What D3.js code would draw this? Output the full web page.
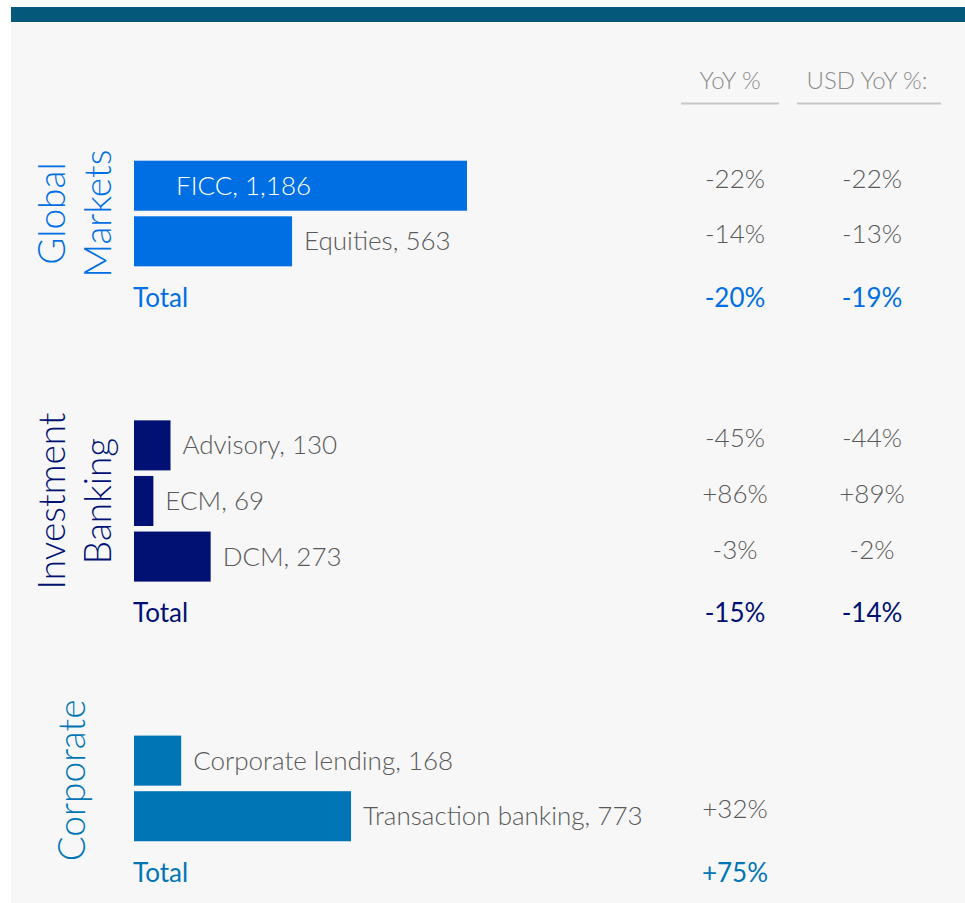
<!DOCTYPE html>
<html>
<head>
<meta charset="utf-8">
<script src="https://cdn.jsdelivr.net/npm/d3@7"></script>
<style>
  body { margin: 0; background: #fff; }
  text { font-family: Lato, "Open Sans", sans-serif; }
</style>
</head>
<body>
<div id="chart"></div>
<script>
// data
var groups = ["Global Markets", "Investment Banking", "Corporate"];
var groupLines = [["Global", "Markets"], ["Investment", "Banking"], ["Corporate"]];
var groupColors = ["#006fe3", "#001173", "#0075b6"];

var rowGroup  = ["Global Markets", "Global Markets", "Investment Banking", "Investment Banking", "Investment Banking", "Corporate", "Corporate"];
var rowNames  = ["FICC", "Equities", "Advisory", "ECM", "DCM", "Corporate lending", "Transaction banking"];
var rowValues = [1186, 563, 130, 69, 273, 168, 773];
var rowYoY    = ["-22%", "-14%", "-45%", "+86%", "-3%", "", "+32%"];
var rowUsdYoY = ["-22%", "-13%", "-44%", "+89%", "-2%", "", ""];

var totalYoY    = ["-20%", "-15%", "+75%"];
var totalUsdYoY = ["-19%", "-14%", ""];

var columns = ["YoY %", "USD YoY %:"];

var width = 965, height = 903;

var svg = d3.select("#chart").append("svg")
    .attr("width", width)
    .attr("height", height);

// background + top band
svg.append("rect").attr("x", 11).attr("y", 22).attr("width", width - 11).attr("height", height - 22).attr("fill", "#f7f7f7");
svg.append("rect").attr("x", 11).attr("y", 7).attr("width", width - 11).attr("height", 15).attr("fill", "#04587a");

// build row slots (bars then a total row per group, with a gap between groups)
var groupGap = 1.67;
var slots = [];
var slot = 0;
groups.forEach(function (g, gi) {
    rowNames.forEach(function (n, i) {
        if (rowGroup[i] == g) {
            slots.push({type: "bar", group: gi, name: n, value: rowValues[i], yoy: rowYoY[i], usd: rowUsdYoY[i], slot: slot});
            slot++;
        }
    });
    slots.push({type: "total", group: gi, name: "Total", yoy: totalYoY[gi], usd: totalUsdYoY[gi], slot: slot});
    slot++;
    slot += groupGap;
});

var y = d3.scaleLinear().domain([0, 1]).range([160.7, 216.3]);
var step = y(1) - y(0);
var barH = step * 0.9;

var x = d3.scaleLinear().domain([0, 1186]).range([134, 467]);
var cx = d3.scalePoint().domain(columns).range([732, 869]);

// header
var head = svg.append("g");
columns.forEach(function (c) {
    head.append("text")
        .attr("x", cx(c) - 2)
        .attr("y", 89)
        .attr("text-anchor", "middle")
        .attr("font-size", 24)
        .attr("font-weight", 300)
        .attr("fill", "#8c8c8c")
        .text(c);
});
head.append("line").attr("x1", 681).attr("x2", 779).attr("y1", 103.5).attr("y2", 103.5).attr("stroke", "#c8c8c8").attr("stroke-width", 2);
head.append("line").attr("x1", 797).attr("x2", 941).attr("y1", 103.5).attr("y2", 103.5).attr("stroke", "#c8c8c8").attr("stroke-width", 2);

var bars = slots.filter(function (d) { return d.type == "bar"; });
var totals = slots.filter(function (d) { return d.type == "total"; });

svg.selectAll("rect.bar")
    .data(bars)
    .enter()
    .append("rect")
    .attr("class", "bar")
    .attr("x", x(0))
    .attr("y", function (d) { return y(d.slot); })
    .attr("width", function (d) { return x(d.value) - x(0); })
    .attr("height", barH)
    .attr("fill", function (d) { return groupColors[d.group]; });

var fmt = d3.format(",");
svg.selectAll("text.lab")
    .data(bars)
    .enter()
    .append("text")
    .attr("class", "lab")
    .attr("x", function (d) {
        var w = x(d.value) - x(0);
        return w > 250 ? x(0) + 42 : x(d.value) + 12;
    })
    .attr("y", function (d) { return y(d.slot) + barH / 2 + 9; })
    .attr("font-size", 26)
    .attr("font-weight", 300)
    .attr("fill", function (d) { return (x(d.value) - x(0)) > 250 ? "#ffffff" : "#595959"; })
    .text(function (d) { return d.name + ", " + fmt(d.value); });

// value columns for bar rows
bars.forEach(function (d) {
    [d.yoy, d.usd].forEach(function (v, ci) {
        if (!v) return;
        svg.append("text")
            .attr("x", cx(columns[ci]) + 3)
            .attr("y", y(d.slot) + barH / 2 + 2)
            .attr("text-anchor", "middle")
            .attr("font-size", 26)
            .attr("font-weight", 300)
            .attr("fill", "#595959")
            .text(v);
    });
});

// totals
totals.forEach(function (d) {
    var col = groupColors[d.group];
    var ty = y(d.slot) + 35;
    svg.append("text")
        .attr("x", x(0) - 1)
        .attr("y", ty)
        .attr("font-size", 26)
        .attr("fill", col)
        .text(d.name);
    [d.yoy, d.usd].forEach(function (v, ci) {
        if (!v) return;
        svg.append("text")
            .attr("x", cx(columns[ci]) + 3)
            .attr("y", ty)
            .attr("text-anchor", "middle")
            .attr("font-size", 26)
            .attr("fill", col)
            .text(v);
    });
});

// rotated group titles, centered on each group's bars
groups.forEach(function (g, gi) {
    var gb = bars.filter(function (d) { return d.group == gi; });
    var top = y(gb[0].slot);
    var bottom = y(gb[gb.length - 1].slot) + barH;
    var mid = (top + bottom) / 2;
    var lines = groupLines[gi];
    var baselines = lines.length == 2 ? [65, 111] : [85];
    if (lines.length == 1) mid -= 8;
    lines.forEach(function (l, li) {
        svg.append("text")
            .attr("transform", "translate(" + baselines[li] + "," + mid + ") rotate(-90)")
            .attr("text-anchor", "middle")
            .attr("font-size", 37)
            .attr("font-weight", 300)
            .attr("fill", groupColors[gi])
            .text(l);
    });
});
</script>
</body>
</html>
